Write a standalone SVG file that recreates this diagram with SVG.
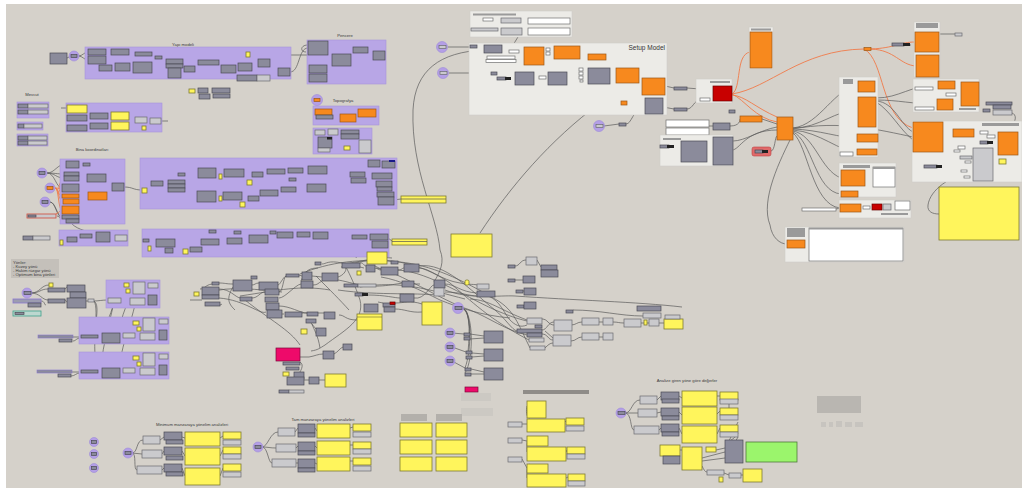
<svg xmlns="http://www.w3.org/2000/svg" width="1022" height="491" viewBox="0 0 1022 491">
<style>
.bg{fill:#d5d1ca}
.g{fill:#b8a6e6;stroke:#a795db;stroke-width:0.6}
.p{fill:#ecebe7;stroke:#cfcdc8;stroke-width:0.6}
.n{fill:#8b8b9b;stroke:#4a4a55;stroke-width:0.7}
.l{fill:#cacacd;stroke:#6a6a70;stroke-width:0.7}
.o{fill:#f7891e;stroke:#9a5718;stroke-width:0.7}
.y{fill:#fff55c;stroke:#7e7a30;stroke-width:0.8}
.w{fill:#ffffff;stroke:#6f6f6f;stroke-width:0.7}
.r{fill:#c80000;stroke:#6a0000;stroke-width:0.7}
.m{fill:#ee0a6a;stroke:#7a0a3a;stroke-width:0.7}
.k{fill:#222;stroke:none}
.b{fill:#9a9a9a;stroke:none}
.f{fill:#c4c0ba;stroke:none}
.c{fill:#b49fe6;stroke:#9c89d8;stroke-width:0.6}
.e{fill:none;stroke:#5a5a5a;stroke-width:0.7}
.eo{fill:none;stroke:#f07a4a;stroke-width:0.9}
.t{font-family:"Liberation Sans",Arial,sans-serif;font-size:4.2px;fill:#3a3a3a}
</style>
<rect width="1022" height="491" fill="#ffffff"/>
<rect class="bg" x="6" y="4" width="1016" height="484"/>

<g id="connectors">
<path class="e" d="M67,58 L71,56 M78,56 C83,56 84,52 88,52 M78,56 C83,56 84,60 88,60 M106,52 L111,52 M106,60 C110,60 110,66 115,66 M129,52 C132,52 132,54 135,54 M130,66 L133,67 M152,54 C154,54 153,57 155,57 M162,57 C164,57 164,62 166,62 M183,62 C184,62 183,69 184,69 M195,69 C197,69 196,62 198,62 M219,62 C220,62 220,69 221,69 M236,69 L238,67 M252,67 C255,67 255,63 258,63 M270,63 C274,63 274,72 278,72 M290,72 C300,72 298,48 308,48 M162,56 C220,55 260,55 308,55 M328,48 C331,48 329,60 332,60 M351,60 C352,60 352,50 353,50 M368,50 C370,50 371,55 373,55 M308,45 C300,45 300,52 306,52"/>
<path class="e" d="M61,108 L67,108 M87,109 C89,109 88,116 90,116 M87,118 L90,116 M108,116 C110,116 109,116 111,116 M108,126 L111,126 M129,116 C132,116 132,120 135,120 M147,120 L150,121 M161,121 L168,121"/>
<path class="e" d="M47,173 C55,173 57,164 66,164 M47,173 C55,173 57,174 64,174 M47,173 C55,173 56,178 64,178 M47,173 C55,173 56,188 62,188 M50,202 C56,202 56,217 62,217 M50,202 C56,202 58,221 66,221 M79,174 C83,174 83,178 87,178 M106,178 C109,178 109,187 112,187 M124,187 C133,187 133,190 142,190 M79,188 C83,188 84,178 87,178 M57,216 C60,216 60,221 66,221 M72,224 C78,230 90,232 96,234"/>
<path class="eo" d="M55,188 C59,188 58,196 62,196 M55,188 C59,188 58,201 63,201 M55,188 C59,188 58,210 62,210 M55,188 C70,188 75,196 88,196 M62,180 C58,185 58,190 62,195 M56,214 C60,212 60,210 62,210"/>
<path class="e" d="M147,190 L151,183 M163,183 L168,182 M185,182 C192,182 191,173 198,173 M185,188 C192,188 190,196 197,196 M185,186 C190,186 192,192 197,194 M216,173 L224,173 M244,173 C248,173 248,174 252,174 M263,174 C265,174 265,172 267,172 M285,172 L288,171 M303,170 L308,170 M327,170 C340,170 338,175 350,175 M216,196 L223,196 M242,196 C245,196 245,198 248,198 M259,198 C260,198 259,193 260,193 M278,193 C280,193 279,190 281,190 M296,190 C301,190 302,188 307,188 M326,188 C338,188 338,180 350,180 M365,176 C368,176 369,176 372,176 M365,180 C370,180 372,183 376,183 M365,174 C368,174 366,164 368,164 M393,200 L401,199 M185,178 C190,176 193,175 178,175"/>
<path class="e" d="M188,249 C192,249 192,247 190,247 M202,249 L209,241 M219,241 C222,241 222,239 227,239 M242,239 C245,239 246,237 249,237 M268,238 C272,238 272,234 277,234 M293,234 L297,234 M310,234 L313,234 M328,234 C340,234 340,236 352,236 M367,236 L370,236 M388,238 L392,241 M227,240 L230,234 M249,235 L270,231 M156,242 L165,248 M173,247 L190,247"/>
<path class="e" d="M31,293 C40,293 41,285 49,285 M31,293 C40,293 40,289 48,289 M31,293 C40,293 42,300 48,300 M65,289 C66,289 66,287 67,287 M65,300 C66,300 66,302 67,302 M41,301 C45,301 44,305 46,305 M86,301 L88,301 M94,301 C98,301 102,300 108,300 M94,301 C100,305 95,320 96,330 C97,336 100,336 102,337 M94,301 C100,310 90,350 98,368 C100,372 101,372 102,372 M121,300 C126,300 126,300 130,300 M114,302 C110,318 105,325 102,333 M114,302 C108,330 100,355 102,370 M128,302 C120,320 118,332 123,336 M136,300 C130,330 115,360 123,371 M73,337 L81,337 M73,341 C76,341 76,338 81,338 M72,372 L80,372 M71,376 C75,376 76,373 80,373 M98,338 L102,338 M120,337 L123,336 M135,336 L140,336 M155,336 L159,335 M98,373 L102,373 M120,372 L123,371 M135,371 L140,371 M155,371 L159,370"/>
<path class="e" d="M200,289 C205,289 205,285 212,284 M219,283 C225,283 226,284 233,284 M252,285 C255,285 255,283 259,283 M278,285 C280,285 283,277 286,276 M299,275 L302,276 M312,276 L322,277 M338,277 C345,275 350,266 341,267 M360,267 L364,268 M374,268 C378,268 378,270 381,270 M398,270 C402,270 402,268 404,268 M419,268 C430,268 440,280 460,283 C470,285 475,284 477,285 M219,289 C230,289 235,297 240,298 M252,298 C258,298 260,292 265,292 M279,292 C283,292 283,278 286,276 M279,298 C285,298 295,285 301,284 M279,306 C290,306 300,313 307,313 M279,314 C282,314 282,314 284,314 M301,313 L307,313 M318,313 L324,313 M313,285 C318,285 318,283 322,281 M233,287 C225,300 230,305 235,310 M190,300 L202,300 M207,305 C215,305 220,306 222,304 M338,280 C350,282 355,285 369,286 M369,286 C390,287 400,282 402,284 M368,295 C385,295 395,298 400,298 M414,298 C425,300 430,285 434,285 M414,284 L420,284 M445,284 C455,284 460,292 477,293 M445,292 C460,292 470,296 477,296 M445,290 C470,300 500,295 515,296 C570,300 640,302 682,307 M378,302 L383,303 M395,303 C405,303 410,300 422,304 M395,309 C405,309 410,313 422,312 M339,315 C345,315 345,320 357,320 M301,281 C305,270 310,268 318,268 M316,276 C330,290 340,300 349,310 M322,264 C326,264 328,260 342,263 M360,263 C363,262 364,266 366,266 M375,266 L381,269 M346,267 C350,275 355,285 360,300 C365,320 345,330 325,345 C320,348 318,350 311,351 M312,324 C314,330 318,335 320,348 M300,357 L309,357 M309,357 C315,356 318,354 323,354 M334,354 C338,352 340,348 343,347 M300,362 C305,365 300,372 298,375 M304,380 L309,380 M319,380 L325,380 M311,323 L316,329 M343,264 C360,262 380,256 392,258 M356,258 C360,248 363,240 367,252"/>
<path class="e" d="M398,270 C430,272 470,300 500,312 C510,316 515,318 527,321 M419,266 C445,262 470,290 495,310 C505,318 512,330 517,331 M376,268 C400,272 440,300 470,310 C490,318 505,330 527,335 M352,264 C380,255 420,262 450,283 C470,300 490,320 529,340 M300,274 C330,262 360,258 400,262 C430,265 460,278 500,302 C515,312 520,328 530,348 M381,277 C400,280 420,290 440,300 C460,308 480,315 510,318 M338,290 C380,296 420,292 445,296 M360,287 C400,280 430,290 465,299 M240,296 C280,290 300,285 330,290 M207,293 C230,285 260,290 282,292 M245,300 C270,320 290,330 300,345 M219,298 C245,300 260,315 266,312"/>
<path class="e" d="M440,250 C445,262 440,272 434,282 M470,299 C490,300 500,310 527,320 M488,296 C500,300 505,315 510,320 C515,325 520,328 527,325 M461,308 C468,308 468,316 470,330 C470,336 465,333 464,334 M461,308 C470,308 470,330 468,352 M461,308 C472,308 472,350 465,368 M461,308 C474,308 474,360 465,373 M470,334 L484,336 M470,339 L484,338 M472,353 L484,354 M472,357 L484,356 M471,369 L484,372 M471,374 L484,374 M452,333 L464,334 M452,347 L466,352 M452,361 L465,368"/>
<path class="e" d="M515,266 C520,266 520,260 526,260 M515,280 L523,280 M523,291 L524,291 M537,260 L541,267 M542,319 C548,319 548,325 554,325 M542,334 C548,334 548,340 553,340 M571,325 C576,325 577,322 582,322 M571,341 C576,341 577,337 582,337 M599,322 L603,322 M599,337 L603,337 M613,322 C618,322 619,323 624,323 M641,323 C645,323 645,323 649,323 M659,323 L664,323 M573,310 C600,310 620,316 643,316 M542,330 C547,330 548,322 554,322 M545,331 C548,333 550,336 553,338 M545,348 C548,345 550,343 553,343"/>
<path class="e" d="M484,50 C440,52 415,70 413,110 C411,170 437,215 440,250 M448,47 L470,47 M477,47 L484,48 M502,49 C506,49 506,52 509,52 M519,52 C521,52 521,52 524,52 M493,21 L501,21 M521,21 L528,21 M522,31 L528,31 M521,32 C517,38 514,44 510,50 M544,55 C548,55 548,50 554,50 M580,52 C584,52 584,57 588,57 M606,57 C612,57 612,76 606,82 C600,84 596,84 588,84 M449,73 L491,73 M497,73 C505,73 508,78 515,78 M534,78 C537,78 537,78 539,78 M546,78 L548,78 M567,78 C574,78 572,70 579,70 M583,75 L588,75 M610,76 L616,76 M639,76 C641,78 641,85 642,86 M480,233 C510,187 550,140 600,103 C620,92 630,93 642,93 M604,126 L619,124 M626,124 C632,124 632,110 645,106 M665,86 L674,88 M687,88 L713,90 M663,107 L674,109 M687,109 C693,109 694,100 700,100 M709,126 L713,126 M730,126 C740,126 740,120 740,119 M732,150 C740,150 745,130 777,130 M762,119 L777,124 M771,151 C775,151 775,136 777,136 M733,141 C745,141 760,130 777,127"/>
<path class="eo" d="M732,94 C742,88 735,55 750,52 M732,94 C770,88 800,50 864,49 M871,49 C895,48 900,42 915,42 M871,49 C895,50 900,65 916,66 M732,94 C745,100 755,118 777,122 M864,49 C885,60 880,118 913,128 M732,95 C745,96 756,108 777,117"/>
<path class="e" d="M793,128 C820,125 835,87 858,86 M793,128 C820,128 835,110 858,110 M793,129 C820,130 840,138 857,138 M793,130 C820,132 840,152 857,152 M793,131 C815,135 820,170 841,178 M793,132 C812,140 815,192 841,194 M793,133 C808,145 812,205 840,208 M793,134 C780,160 760,200 770,225 C772,238 780,244 787,244 M793,129 C840,120 880,130 913,137 M911,45 L892,45 M876,98 C900,98 910,85 938,85 M876,100 C900,100 910,104 937,104 M876,101 C895,102 900,125 913,132 M876,102 C890,110 900,130 913,140 M955,85 L961,88 M939,34 L955,34 M998,140 L993,140 M974,160 C960,165 953,165 946,159 M974,172 C950,175 930,190 928,205 C927,212 933,214 939,214 M1012,113 C1018,115 1016,125 1005,130 M943,133 L953,133 M865,174 L873,174 M861,208 L863,208 M870,208 L872,208 M882,207 L883,207 M836,209 L840,208"/>
<path class="e" d="M132,453 C138,453 136,440 143,440 M132,453 L142,454 M132,453 C137,453 133,470 137,470 M160,440 L164,437 M162,454 L164,451 M162,470 L164,468 M182,437 L185,438 M182,451 L185,456 M182,468 L185,476 M220,438 L223,436 M220,456 L223,450 M220,476 L223,468 M262,447 C268,447 270,432 278,432 M262,447 C268,447 270,448 276,448 M262,447 C268,447 268,463 272,463 M295,432 L298,428 M296,448 L298,446 M296,463 L298,463 M315,428 L317,431 M315,446 L317,448 M315,463 L317,464 M350,428 L353,427 M350,445 L353,445 M350,461 L353,461 M625,413 C632,413 632,400 640,400 M625,413 L638,413 M625,413 C632,413 630,430 634,430 M657,400 L661,396 M657,413 L661,412 M659,430 L661,428 M679,396 L682,398 M679,412 L682,415 M679,428 L682,434 M717,396 L720,396 M717,414 L720,411 M717,434 L720,428 M729,399 L729,408 M702,458 L725,452 M702,461 L725,458 M716,450 L725,448 M738,433 C736,438 730,440 725,445 M738,422 C734,430 730,440 728,442 M738,437 L734,444 M702,466 C704,470 705,472 707,472 M724,473 L729,475 M741,475 L743,475 M680,450 L682,450 M530,418 C526,418 526,410 527,406 M522,424 L527,424 M522,440 L527,441 M522,459 L527,468 M530,436 C526,440 527,446 527,452 M530,464 C526,466 527,470 527,478 M565,422 L566,421 M566,452 L567,450 M566,478 L568,477"/>
</g>

<g id="canvas-top-left">
<rect class="n" x="50" y="53" width="17" height="11"/>
<circle class="c" cx="74" cy="56" r="5"/><rect class="n" x="71" y="54.5" width="6" height="3"/>
</g>
<g id="yapi-modeli">
<rect class="g" x="85" y="47" width="206" height="32"/>
<text class="t" x="183" y="45.5" text-anchor="middle">Yapı modeli</text>
<rect class="n" x="88" y="49" width="18" height="6"/><rect class="n" x="88" y="56" width="18" height="8"/>
<rect class="n" x="111" y="49" width="18" height="6"/><rect class="n" x="99" y="65" width="13" height="6"/>
<rect class="n" x="115" y="63" width="15" height="8"/><rect class="n" x="133" y="62" width="19" height="11"/>
<rect class="n" x="135" y="52" width="17" height="4"/><rect class="n" x="155" y="56" width="7" height="3"/>
<rect class="n" x="166" y="59" width="17" height="5"/><rect class="n" x="166" y="64" width="17" height="4"/><rect class="n" x="168" y="68" width="13" height="10"/>
<rect class="n" x="184" y="66" width="11" height="6"/><rect class="n" x="198" y="60" width="21" height="5"/>
<rect class="n" x="221" y="65" width="15" height="8"/><rect class="n" x="238" y="63" width="14" height="8"/>
<rect class="y" x="246" y="52" width="4" height="5"/><rect class="n" x="258" y="59" width="12" height="8"/>
<rect class="n" x="278" y="68" width="12" height="8"/>
<rect class="n" x="237" y="75" width="20" height="6"/><rect class="l" x="257" y="75" width="13" height="6"/>
</g>
<g id="pencere">
<rect class="g" x="307" y="40" width="79" height="44"/>
<text class="t" x="345" y="36.5" text-anchor="middle">Pencere</text>
<rect class="n" x="308" y="41" width="20" height="14"/><rect class="n" x="332" y="54" width="19" height="12"/>
<rect class="n" x="353" y="47" width="15" height="6"/><rect class="n" x="373" y="51" width="12" height="9"/>
<rect class="n" x="309" y="65" width="18" height="8"/><rect class="n" x="309" y="74" width="18" height="8"/>
</g>
<g id="misc-top">
<rect class="y" x="189" y="89" width="6" height="4"/><rect class="n" x="198" y="88" width="10" height="5"/>
<rect class="n" x="199" y="94" width="11" height="5"/><rect class="n" x="212" y="88" width="18" height="5"/><rect class="n" x="213" y="94" width="17" height="4"/>
</g>
<g id="mevcut">
<text class="t" x="32" y="96" text-anchor="middle">Mevcut</text>
<rect class="g" x="17" y="102" width="32" height="16"/>
<rect class="n" x="18" y="104" width="10" height="4"/><rect class="l" x="28" y="104" width="20" height="4"/>
<rect class="n" x="18" y="110" width="10" height="4"/><rect class="l" x="28" y="110" width="20" height="4"/>
<rect class="g" x="17" y="122" width="26" height="8"/>
<rect class="n" x="18" y="124" width="6" height="4"/><rect class="l" x="24" y="124" width="18" height="4"/>
<rect class="g" x="17" y="134" width="31" height="12"/>
<rect class="n" x="18" y="136" width="10" height="4"/><rect class="l" x="28" y="136" width="19" height="4"/>
<rect class="n" x="18" y="141" width="10" height="4"/><rect class="l" x="28" y="141" width="19" height="4"/>
</g>
<g id="mevcut-proc">
<rect class="g" x="66" y="103" width="96" height="29"/>
<rect class="y" x="67" y="105" width="20" height="8"/><rect class="n" x="67" y="115" width="20" height="6"/>
<rect class="n" x="90" y="113" width="18" height="6"/><rect class="y" x="111" y="112" width="18" height="8"/>
<rect class="l" x="135" y="117" width="12" height="6"/><rect class="l" x="150" y="118" width="11" height="6"/>
<rect class="n" x="67" y="125" width="20" height="6"/><rect class="n" x="90" y="123" width="18" height="6"/>
<rect class="y" x="111" y="122" width="18" height="8"/><rect class="y" x="142" y="126" width="4" height="4"/>
</g>
<g id="topografya">
<circle class="c" cx="317" cy="100" r="5.5"/><rect class="o" x="314" y="98.5" width="6" height="3"/>
<text class="t" x="343" y="101.5" text-anchor="middle">Topografya</text>
<rect class="g" x="313" y="106" width="66" height="19"/>
<rect class="o" x="315" y="109" width="17" height="6"/><rect class="n" x="316" y="115" width="17" height="4"/>
<rect class="o" x="340" y="114" width="16" height="8"/><rect class="o" x="358" y="109" width="18" height="8"/>
</g>
<g id="topo-2">
<rect class="g" x="313" y="128" width="59" height="26"/>
<rect class="l" x="315" y="130" width="10" height="5"/><rect class="l" x="328" y="129" width="10" height="6"/>
<rect class="n" x="341" y="130" width="18" height="4"/><rect class="n" x="341" y="134" width="18" height="5"/>
<rect class="n" x="318" y="137" width="14" height="11"/><rect class="k" x="327" y="137" width="5" height="2.5"/>
<rect class="l" x="318" y="148" width="12" height="4"/><rect class="y" x="344" y="146" width="6" height="4"/>
<rect class="l" x="359" y="140" width="12" height="13"/>
</g>
<g id="bina-koordinatlari">
<text class="t" x="92" y="151" text-anchor="middle">Bina koordinatları</text>
<rect class="g" x="60" y="159" width="65" height="65"/>
<circle class="c" cx="42" cy="173" r="5"/><rect class="n" x="39" y="171.5" width="6" height="3"/>
<circle class="c" cx="50" cy="188" r="5"/><rect class="o" x="47" y="186.5" width="6" height="3"/>
<circle class="c" cx="45" cy="202" r="5"/><rect class="n" x="42" y="200.5" width="6" height="3"/>
<rect class="n" x="66" y="161" width="13" height="7"/><rect class="n" x="83" y="163" width="7" height="3"/>
<rect class="n" x="64" y="172" width="15" height="4"/><rect class="n" x="64" y="176" width="15" height="5"/>
<rect class="n" x="62" y="184" width="17" height="8"/><rect class="n" x="87" y="174" width="19" height="8"/>
<rect class="n" x="112" y="183" width="12" height="8"/>
<rect class="o" x="62" y="194" width="17" height="4"/><rect class="o" x="63" y="199" width="16" height="5"/>
<rect class="o" x="62" y="206" width="17" height="8"/><rect class="n" x="62" y="215" width="17" height="4"/>
<rect class="n" x="66" y="219" width="13" height="4"/><rect class="o" x="88" y="192" width="19" height="8"/>
<rect x="27" y="214" width="29" height="4" fill="#c9c9cc" stroke="#d04a3a" stroke-width="0.8"/><rect class="n" x="28" y="215" width="8" height="2"/>
</g>
<g id="bina-proc">
<rect class="g" x="140" y="158" width="257" height="51"/>
<rect class="y" x="142" y="188" width="5" height="5"/><rect class="n" x="151" y="181" width="12" height="5"/>
<rect class="n" x="168" y="180" width="17" height="4"/><rect class="n" x="168" y="184" width="17" height="4"/><rect class="n" x="168" y="188" width="17" height="4"/>
<rect class="n" x="178" y="173" width="7" height="3"/><rect class="n" x="198" y="168" width="18" height="10"/>
<rect class="y" x="219" y="174" width="3" height="5"/><rect class="n" x="224" y="169" width="20" height="8"/>
<rect class="n" x="252" y="172" width="11" height="5"/><rect class="n" x="267" y="169" width="18" height="5"/>
<rect class="y" x="247" y="180" width="5" height="5"/><rect class="n" x="288" y="168" width="15" height="5"/>
<rect class="n" x="308" y="166" width="19" height="8"/><rect class="n" x="197" y="191" width="19" height="11"/>
<rect class="y" x="219" y="196" width="3" height="5"/><rect class="n" x="223" y="192" width="19" height="8"/>
<rect class="n" x="248" y="196" width="11" height="5"/><rect class="y" x="240" y="202" width="5" height="5"/>
<rect class="n" x="260" y="190" width="18" height="6"/><rect class="n" x="281" y="187" width="15" height="5"/>
<rect class="n" x="289" y="178" width="7" height="3"/><rect class="n" x="307" y="184" width="19" height="8"/>
<rect class="n" x="350" y="172" width="15" height="5"/><rect class="n" x="351" y="178" width="15" height="5"/>
<rect class="n" x="368" y="160" width="12" height="7"/><rect class="n" x="382" y="161" width="13" height="7"/><rect x="389" y="160" width="6" height="2" fill="#1a1a8a"/>
<rect class="n" x="372" y="173" width="20" height="6"/><rect class="n" x="376" y="181" width="16" height="6"/>
<rect class="n" x="377" y="187" width="15" height="4"/><rect class="n" x="377" y="192" width="17" height="5"/>
<rect class="n" x="378" y="197" width="16" height="8"/>
</g>
<g id="wide-panels">
<rect class="y" x="401" y="196" width="45" height="7"/><line x1="401" y1="199" x2="446" y2="199" stroke="#555" stroke-width="0.7"/>
<rect class="y" x="392" y="239" width="35" height="6"/><line x1="392" y1="241.5" x2="427" y2="241.5" stroke="#555" stroke-width="0.7"/>
</g>
<g id="bina-proc-2">
<rect class="g" x="59" y="230" width="69" height="16"/>
<rect class="n" x="67" y="237" width="10" height="5"/><rect class="n" x="80" y="234" width="12" height="4"/>
<rect class="n" x="96" y="232" width="14" height="10"/><rect class="l" x="115" y="235" width="12" height="6"/>
<rect class="y" x="60" y="240" width="3" height="5"/>
<rect class="n" x="23" y="236" width="10" height="4"/><rect class="l" x="33" y="236" width="17" height="4"/>
</g>
<g id="yapi-proc-2">
<rect class="g" x="142" y="229" width="247" height="28"/>
<rect class="n" x="209" y="230" width="7" height="3"/><rect class="n" x="234" y="231" width="7" height="3"/>
<rect class="n" x="270" y="231" width="6" height="3"/><rect class="n" x="201" y="239" width="18" height="6"/>
<rect class="n" x="227" y="238" width="15" height="6"/><rect class="n" x="249" y="235" width="19" height="8"/>
<rect class="n" x="277" y="232" width="16" height="6"/><rect class="n" x="297" y="232" width="13" height="5"/>
<rect class="n" x="313" y="232" width="15" height="7"/><rect class="n" x="352" y="235" width="15" height="4"/>
<rect class="n" x="370" y="234" width="18" height="6"/><rect class="n" x="372" y="241" width="16" height="7"/>
<rect class="n" x="190" y="247" width="12" height="5"/><rect class="y" x="183" y="249" width="5" height="5"/>
<rect class="n" x="143" y="239" width="6" height="3"/><rect class="n" x="156" y="239" width="19" height="8"/>
<rect class="y" x="148" y="246" width="3" height="5"/><rect class="n" x="165" y="248" width="8" height="5"/>
</g>
<g id="yonler">
<rect class="f" x="11" y="259" width="48" height="19"/>
<text class="t" x="13" y="263.5" font-size="3.6">Yönler:</text>
<text class="t" x="13" y="267.5" font-size="3.6">- Kuzey yönü</text>
<text class="t" x="13" y="271.5" font-size="3.6">- Hakim rüzgar yönü</text>
<text class="t" x="13" y="275.5" font-size="3.6">- Optimum bina yönleri</text>
</g>
<g id="yon-input">
<circle class="c" cx="27" cy="293" r="5"/><rect class="n" x="24" y="291.5" width="7" height="3"/>
<rect class="y" x="49" y="283" width="4" height="4"/><rect class="n" x="48" y="288" width="17" height="4"/>
<rect class="n" x="67" y="285" width="18" height="7"/><rect class="n" x="70" y="292" width="16" height="6"/>
<rect class="n" x="67" y="298" width="19" height="10"/><rect class="n" x="48" y="299" width="17" height="4"/>
<rect x="13" y="299" width="28" height="4" fill="#9c9cb0" stroke="#8a78d0" stroke-width="0.8"/>
<rect class="n" x="28" y="303" width="13" height="4"/>
<rect x="13" y="311" width="28" height="5" fill="#bcd7cf" stroke="#3ea08a" stroke-width="0.8"/><rect class="n" x="15" y="312.5" width="9" height="2"/>
<rect class="l" x="88" y="299" width="6" height="3"/>
</g>
<g id="yon-a">
<rect class="g" x="106" y="280" width="54" height="28"/>
<rect class="y" x="124" y="283" width="5" height="4"/><rect class="y" x="126" y="289" width="4" height="4"/>
<rect class="l" x="133" y="282" width="12" height="12"/><rect class="l" x="148" y="283" width="10" height="5"/>
<rect class="n" x="148" y="295" width="9" height="10"/><rect class="l" x="130" y="298" width="15" height="7"/>
<rect class="l" x="108" y="298" width="13" height="5"/>
</g>
<g id="yon-b">
<rect class="g" x="79" y="317" width="90" height="27"/>
<rect class="y" x="133" y="321" width="6" height="4"/><rect class="y" x="137" y="327" width="4" height="4"/>
<rect class="l" x="143" y="318" width="12" height="13"/><rect class="l" x="159" y="319" width="9" height="5"/>
<rect class="n" x="159" y="330" width="8" height="10"/><rect class="l" x="140" y="333" width="15" height="7"/>
<rect class="l" x="123" y="333" width="12" height="5"/><rect class="n" x="102" y="333" width="18" height="10"/>
<rect class="n" x="81" y="335" width="17" height="3"/>
<rect x="38" y="335" width="35" height="3" fill="#8b8b9b" stroke="#8a78d0" stroke-width="0.6"/><rect class="n" x="59" y="339" width="13" height="3"/>
</g>
<g id="yon-c">
<rect class="g" x="79" y="352" width="90" height="27"/>
<rect class="y" x="133" y="356" width="6" height="4"/><rect class="y" x="137" y="362" width="4" height="4"/>
<rect class="l" x="143" y="353" width="12" height="13"/><rect class="l" x="159" y="354" width="9" height="5"/>
<rect class="n" x="159" y="365" width="8" height="10"/><rect class="l" x="140" y="368" width="15" height="7"/>
<rect class="l" x="123" y="368" width="12" height="5"/><rect class="n" x="102" y="368" width="18" height="10"/>
<rect class="n" x="81" y="370" width="17" height="3"/>
<rect x="37" y="370" width="35" height="3" fill="#8b8b9b" stroke="#8a78d0" stroke-width="0.6"/><rect class="n" x="58" y="374" width="13" height="3"/>
</g>
<g id="mid-cluster">
<rect class="y" x="367" y="252" width="20" height="12"/>
<rect class="y" x="451" y="234" width="41" height="23"/>
<rect class="n" x="315" y="262" width="6" height="3"/><rect class="n" x="342" y="263" width="18" height="5"/>
<rect class="y" x="357" y="271" width="4" height="4"/><rect class="n" x="366" y="265" width="9" height="7"/>
<rect class="n" x="381" y="267" width="17" height="8"/><rect class="n" x="391" y="261" width="7" height="3"/>
<rect class="n" x="404" y="264" width="15" height="8"/>
<rect class="n" x="286" y="274" width="13" height="3"/><rect class="n" x="302" y="272" width="10" height="8"/>
<rect class="n" x="322" y="273" width="16" height="8"/><rect class="n" x="301" y="281" width="12" height="7"/>
<rect class="n" x="212" y="282" width="7" height="3"/><rect class="n" x="202" y="287" width="17" height="8"/>
<rect class="n" x="202" y="295" width="17" height="4"/><rect class="n" x="205" y="302" width="15" height="4"/>
<rect class="y" x="194" y="292" width="5" height="4"/><rect class="n" x="233" y="280" width="19" height="11"/>
<rect class="n" x="251" y="276" width="6" height="3"/><rect class="n" x="259" y="282" width="19" height="8"/>
<rect class="n" x="240" y="297" width="12" height="4"/>
<rect class="n" x="265" y="289" width="14" height="6"/><rect class="n" x="265" y="297" width="13" height="5"/>
<rect class="n" x="266" y="303" width="13" height="7"/><rect class="n" x="267" y="310" width="15" height="8"/>
<rect class="n" x="285" y="312" width="17" height="5"/><rect class="n" x="307" y="312" width="11" height="4"/>
<rect class="n" x="324" y="312" width="11" height="7"/>
<rect class="n" x="344" y="284" width="14" height="3"/><rect class="l" x="358" y="284" width="18" height="3"/>
<rect class="n" x="355" y="293" width="8" height="3"/><rect class="k" x="362" y="293" width="6" height="3"/>
<rect class="n" x="402" y="281" width="12" height="6"/><rect class="n" x="434" y="280" width="11" height="8"/>
<rect class="l" x="434" y="288" width="10" height="8"/><rect class="n" x="400" y="294" width="14" height="8"/>
<rect class="n" x="364" y="304" width="14" height="8"/><rect class="n" x="383" y="303" width="12" height="4"/>
<rect class="r" x="390" y="302" width="5" height="2.5"/><rect class="n" x="384" y="307" width="11" height="5"/>
<rect class="y" x="357" y="314" width="25" height="16"/><line x1="357" y1="317" x2="382" y2="317" stroke="#6b6a30" stroke-width="0.6"/>
<rect class="y" x="422" y="302" width="20" height="23"/>
<rect class="y" x="465" y="280" width="4" height="5" rx="1.5"/><rect class="l" x="477" y="284" width="12" height="5"/>
<rect class="n" x="477" y="291" width="18" height="6"/>
<rect class="n" x="306" y="319" width="10" height="4"/><rect class="y" x="301" y="329" width="6" height="5"/>
<rect class="n" x="316" y="328" width="10" height="8"/><rect class="n" x="343" y="344" width="9" height="6"/>
<rect class="n" x="323" y="351" width="11" height="8"/>
<rect class="m" x="276" y="348" width="24" height="13"/>
<rect class="n" x="283" y="362" width="17" height="3"/><rect class="n" x="286" y="367" width="13" height="3"/>
<rect class="y" x="283" y="372" width="6" height="4"/><rect class="n" x="294" y="372" width="10" height="7"/>
<rect class="n" x="287" y="377" width="17" height="8"/><rect class="n" x="309" y="377" width="10" height="7"/>
<rect class="y" x="325" y="374" width="21" height="13"/>
<rect class="n" x="279" y="390" width="10" height="3"/><rect class="l" x="289" y="390" width="15" height="3"/>
</g>
<g id="gen-cluster">
<circle class="c" cx="458" cy="308" r="5.5"/><rect class="n" x="455" y="306.5" width="7" height="3"/>
<circle class="c" cx="450" cy="333" r="5"/><rect class="n" x="447" y="331.5" width="6" height="3"/>
<circle class="c" cx="450" cy="347" r="5"/><rect class="n" x="447" y="345.5" width="6" height="3"/>
<circle class="c" cx="450" cy="361" r="5"/><rect class="n" x="447" y="359.5" width="6" height="3"/>
<rect class="n" x="464" y="333" width="6" height="3"/><rect class="n" x="464" y="337" width="6" height="3"/>
<rect class="n" x="466" y="351" width="6" height="3"/><rect class="n" x="466" y="356" width="6" height="3"/>
<rect class="n" x="465" y="368" width="6" height="3"/><rect class="n" x="465" y="373" width="6" height="3"/>
<rect class="n" x="484" y="331" width="19" height="12"/><rect class="n" x="484" y="349" width="19" height="12"/>
<rect class="n" x="484" y="368" width="19" height="12"/>
<rect class="m" x="465" y="387" width="13" height="5"/>
<rect x="461" y="393" width="30" height="8" fill="#ccc9c3"/><rect x="461" y="408" width="32" height="8" fill="#ccc9c3"/>
</g>
<g id="right-mid-cluster">
<rect class="l" x="526" y="257" width="11" height="8" stroke="#8a78d0"/>
<rect class="n" x="508" y="265" width="7" height="3"/><rect class="n" x="541" y="265" width="16" height="5"/>
<rect class="n" x="541" y="270" width="17" height="7"/>
<rect class="n" x="508" y="279" width="7" height="3"/><rect class="n" x="523" y="276" width="12" height="7" stroke="#8a78d0"/>
<rect class="n" x="516" y="290" width="7" height="3"/><rect class="n" x="524" y="288" width="12" height="7" stroke="#8a78d0"/>
<rect class="n" x="517" y="305" width="7" height="3"/><rect class="n" x="524" y="302" width="12" height="7" stroke="#8a78d0"/>
<rect class="n" x="637" y="306" width="24" height="5" stroke="#8a78d0"/><rect class="l" x="643" y="313" width="18" height="5"/>
<rect class="n" x="566" y="310" width="7" height="3"/><rect class="l" x="527" y="318" width="15" height="6"/>
<rect class="n" x="535" y="325" width="7" height="3"/><rect class="n" x="517" y="329" width="25" height="4"/>
<rect class="n" x="527" y="333" width="15" height="4"/><rect class="l" x="529" y="338" width="15" height="4"/>
<rect class="l" x="530" y="346" width="15" height="4"/>
<rect class="l" x="554" y="320" width="18" height="11"/><rect class="l" x="553" y="335" width="18" height="11"/>
<rect class="l" x="582" y="318" width="17" height="7"/><rect class="l" x="603" y="318" width="10" height="7"/>
<rect class="l" x="582" y="333" width="17" height="7"/><rect class="l" x="603" y="333" width="10" height="7"/>
<rect class="l" x="624" y="319" width="17" height="8"/><rect class="y" x="644" y="320" width="3" height="5"/>
<rect class="l" x="649" y="319" width="10" height="7"/><rect class="y" x="664" y="319" width="19" height="10"/>
<rect class="l" x="665" y="315" width="15" height="4"/>
</g>
<g id="min-manzara">
<text class="t" x="192" y="426" text-anchor="middle" font-size="3.6">Minimum manzaraya yönelim analizleri</text>
<circle class="c" cx="94" cy="442" r="4.5"/><rect class="n" x="91.5" y="440.5" width="5" height="3"/>
<circle class="c" cx="94" cy="454" r="4.5"/><rect class="n" x="91.5" y="452.5" width="5" height="3"/>
<circle class="c" cx="94" cy="468" r="4.5"/><rect class="n" x="91.5" y="466.5" width="5" height="3"/>
<circle class="c" cx="128" cy="453" r="5"/><rect class="n" x="125" y="451.5" width="6" height="3"/>
<rect class="l" x="143" y="436" width="17" height="8"/><rect class="l" x="142" y="450" width="20" height="8"/>
<rect class="l" x="137" y="466" width="25" height="8"/>
<rect class="n" x="164" y="432" width="18" height="8"/><rect class="n" x="166" y="440" width="17" height="4"/>
<rect class="n" x="164" y="447" width="18" height="8"/><rect class="n" x="166" y="456" width="17" height="4"/>
<rect class="n" x="164" y="464" width="18" height="8"/><rect class="n" x="166" y="472" width="17" height="4"/>
<rect class="y" x="185" y="432" width="35" height="14"/><rect class="y" x="185" y="448" width="35" height="17"/>
<rect class="y" x="185" y="468" width="35" height="17"/>
<rect class="y" x="223" y="432" width="18" height="7"/><rect class="l" x="223" y="440" width="18" height="5"/>
<rect class="y" x="223" y="447" width="18" height="7"/><rect class="l" x="223" y="454" width="18" height="5"/>
<rect class="y" x="223" y="464" width="18" height="7"/><rect class="l" x="223" y="472" width="18" height="5"/>
</g>
<g id="tam-manzara">
<text class="t" x="323" y="420.5" text-anchor="middle" font-size="3.6">Tam manzaraya yönelim analizleri</text>
<circle class="c" cx="258" cy="447" r="5"/><rect class="n" x="255" y="445.5" width="6" height="3"/>
<rect class="l" x="278" y="428" width="17" height="8"/><rect class="l" x="276" y="444" width="20" height="8"/>
<rect class="l" x="272" y="459" width="24" height="8"/>
<rect class="n" x="298" y="424" width="17" height="9"/><rect class="n" x="298" y="433" width="17" height="4"/>
<rect class="n" x="298" y="442" width="17" height="9"/><rect class="n" x="298" y="451" width="17" height="4"/>
<rect class="n" x="298" y="459" width="17" height="9"/><rect class="n" x="298" y="468" width="17" height="4"/>
<rect class="y" x="317" y="424" width="33" height="14"/><rect class="y" x="317" y="441" width="33" height="14"/>
<rect class="y" x="317" y="457" width="33" height="14"/>
<rect class="y" x="353" y="424" width="18" height="7"/><rect class="l" x="353" y="432" width="18" height="5"/>
<rect class="y" x="353" y="442" width="18" height="7"/><rect class="l" x="353" y="449" width="18" height="5"/>
<rect class="y" x="353" y="458" width="18" height="7"/><rect class="l" x="353" y="466" width="18" height="5"/>
</g>
<g id="yellow-grid">
<rect x="401" y="414" width="26" height="7" fill="#b3b0ab"/><rect x="436" y="414" width="26" height="7" fill="#b3b0ab"/>
<rect class="y" x="400" y="423" width="32" height="14"/><rect class="y" x="436" y="423" width="31" height="14"/>
<rect class="y" x="400" y="440" width="32" height="14"/><rect class="y" x="436" y="440" width="31" height="14"/>
<rect class="y" x="400" y="457" width="32" height="14"/><rect class="y" x="436" y="457" width="31" height="14"/>
</g>
<g id="yellow-tree">
<rect x="523" y="390" width="66" height="4" fill="#8f8c88"/>
<rect class="y" x="527" y="401" width="19" height="17"/>
<rect class="l" x="508" y="422" width="14" height="5"/><rect class="y" x="527" y="419" width="38" height="13"/>
<rect class="y" x="566" y="418" width="18" height="7"/><rect class="l" x="566" y="426" width="18" height="5"/>
<rect class="l" x="508" y="438" width="14" height="5"/><rect class="y" x="527" y="436" width="21" height="10"/>
<rect class="y" x="527" y="447" width="39" height="14"/>
<rect class="y" x="567" y="447" width="18" height="7"/><rect class="l" x="567" y="454" width="18" height="5"/>
<rect class="l" x="508" y="457" width="14" height="5"/><rect class="y" x="527" y="464" width="21" height="9"/>
<rect class="y" x="527" y="474" width="39" height="13"/>
<rect class="y" x="568" y="474" width="17" height="7"/><rect class="l" x="568" y="481" width="17" height="5"/>
</g>
<g id="analize-giren">
<text class="t" x="687" y="382" text-anchor="middle" font-size="3.6">Analize giren yöne göre değerler</text>
<circle class="c" cx="621" cy="413" r="5"/><rect class="n" x="618" y="411.5" width="7" height="3"/>
<rect class="l" x="640" y="396" width="17" height="8"/><rect class="l" x="638" y="409" width="19" height="8"/>
<rect class="l" x="634" y="426" width="25" height="8"/>
<rect class="n" x="661" y="392" width="18" height="8"/><rect class="n" x="662" y="399" width="17" height="4"/>
<rect class="n" x="661" y="408" width="18" height="8"/><rect class="n" x="662" y="416" width="17" height="4"/>
<rect class="n" x="661" y="424" width="18" height="8"/><rect class="n" x="662" y="432" width="17" height="4"/>
<rect class="y" x="682" y="391" width="35" height="15"/><rect class="y" x="682" y="407" width="35" height="17"/>
<rect class="y" x="682" y="426" width="35" height="17"/>
<rect class="y" x="720" y="392" width="18" height="8"/><rect class="l" x="720" y="399" width="18" height="5"/>
<rect class="y" x="720" y="408" width="18" height="7"/><rect class="l" x="720" y="415" width="18" height="5"/>
<rect class="y" x="720" y="425" width="18" height="7"/><rect class="l" x="720" y="432" width="18" height="5"/>
<rect class="y" x="660" y="445" width="20" height="11"/><rect class="n" x="663" y="456" width="17" height="8"/>
<rect class="y" x="682" y="447" width="20" height="23"/><rect class="y" x="706" y="447" width="10" height="5"/>
<rect class="n" x="725" y="440" width="18" height="23"/>
<rect x="746" y="442" width="51" height="20" fill="#9bf56c" stroke="#4e7a3a" stroke-width="0.8"/>
<rect class="l" x="707" y="470" width="17" height="5"/><rect class="l" x="729" y="473" width="12" height="5"/>
<rect class="y" x="719" y="477" width="4" height="5"/><rect class="y" x="743" y="469" width="19" height="13"/>
</g>
<g id="faint-right">
<rect x="817" y="396" width="44" height="17" fill="#b9b6b1"/>
<rect x="821" y="422" width="5" height="5" fill="#c7c4bf"/><rect x="829" y="422" width="4" height="5" fill="#c7c4bf"/>
<rect x="836" y="421" width="6" height="6" fill="#c7c4bf"/><rect x="845" y="422" width="7" height="5" fill="#c7c4bf"/><rect x="855" y="422" width="8" height="5" fill="#c7c4bf"/>
</g>
<g id="top-panel">
<rect class="p" x="470" y="11" width="102" height="26"/>
<rect class="b" x="473" y="13.5" width="43" height="2"/>
<rect class="w" x="483" y="18" width="10" height="3"/><rect class="l" x="501" y="18" width="20" height="5"/>
<rect class="w" x="528" y="18" width="42" height="6"/>
<rect class="l" x="471" y="28" width="27" height="3"/><rect class="l" x="501" y="28" width="21" height="7"/>
<rect class="w" x="528" y="28" width="42" height="7"/>
</g>
<g id="setup-model">
<rect class="p" x="469" y="43" width="198" height="72"/>
<text x="665" y="50" text-anchor="end" font-family="Liberation Sans,Arial,sans-serif" font-size="6.5" fill="#333">Setup Model</text>
<circle class="c" cx="442" cy="47" r="5.5"/><rect class="l" x="439" y="45.5" width="7" height="3"/>
<rect class="n" x="470" y="45" width="7" height="3"/><rect class="n" x="484" y="45" width="18" height="8"/>
<rect class="w" x="509" y="50" width="10" height="3"/><rect class="w" x="487" y="56" width="28" height="3"/><rect class="w" x="486" y="59.5" width="30" height="3"/>
<rect class="o" x="524" y="47" width="20" height="18"/><rect class="w" x="546" y="48" width="4" height="3"/><rect class="w" x="546" y="52" width="4" height="3"/>
<rect class="o" x="554" y="46" width="26" height="13"/><rect class="o" x="588" y="54" width="18" height="6"/>
<circle class="c" cx="443" cy="73" r="5.5"/><rect class="l" x="440" y="71.5" width="7" height="3"/>
<rect class="n" x="491" y="72" width="6" height="3"/><rect class="n" x="497" y="77" width="9" height="3"/><rect class="k" x="505" y="77" width="6" height="3"/>
<rect class="n" x="515" y="72" width="19" height="13"/><rect class="w" x="539" y="76" width="7" height="3"/>
<rect class="n" x="548" y="72" width="19" height="13"/>
<rect class="w" x="579" y="68" width="4" height="3"/><rect class="w" x="579" y="72" width="4" height="3"/><rect class="w" x="579" y="76" width="4" height="3"/><rect class="w" x="580" y="80" width="3" height="2"/>
<rect class="n" x="588" y="68" width="22" height="16"/><rect class="o" x="616" y="68" width="23" height="15"/>
<rect class="o" x="642" y="78" width="23" height="17"/><rect class="n" x="645" y="98" width="18" height="16"/>
<rect class="o" x="621" y="101" width="6" height="4"/>
<circle class="c" cx="599" cy="126" r="5.5"/><rect class="l" x="596" y="124.5" width="7" height="3"/>
<rect class="n" x="619" y="123" width="7" height="3"/>
<rect class="n" x="674" y="87" width="13" height="3"/><rect class="n" x="674" y="108" width="13" height="3"/>
</g>
<g id="red-panel">
<rect class="p" x="696" y="79" width="36" height="24"/>
<rect class="b" x="710" y="81" width="20" height="2"/>
<rect class="r" x="713" y="86" width="19" height="15"/><rect class="w" x="700" y="98" width="10" height="3"/>
</g>
<g id="inputs-panel">
<rect class="w" x="666" y="120" width="43" height="7"/><rect class="w" x="666" y="128" width="43" height="7"/>
<rect class="n" x="713" y="123" width="17" height="7"/>
<rect class="p" x="660" y="135" width="73" height="31"/>
<rect class="b" x="663" y="138" width="18" height="2"/>
<rect class="n" x="660" y="145" width="9" height="3"/><rect class="k" x="667" y="145" width="7" height="3"/>
<rect class="n" x="681" y="141" width="26" height="21"/><rect class="n" x="713" y="137" width="20" height="28"/>
</g>
<g id="right-area">
<rect class="p" x="749" y="27" width="24" height="42"/><rect class="b" x="751" y="28.5" width="20" height="2"/>
<rect class="o" x="750" y="32" width="22" height="36"/>
<rect class="n" x="729" y="110" width="6" height="3"/><rect class="o" x="740" y="116" width="22" height="6"/>
<rect x="752" y="147" width="19" height="9" rx="2" fill="#e06a6a" stroke="#c04040" stroke-width="0.6"/><rect class="n" x="755" y="150" width="8" height="3"/><rect class="k" x="762" y="150" width="6" height="3"/>
<rect class="o" x="777" y="117" width="16" height="23"/>
<rect class="o" x="864" y="47.5" width="7" height="3"/>
<rect class="n" x="892" y="43" width="12" height="3"/><rect class="k" x="903" y="43" width="7" height="3"/>
<rect class="p" x="914" y="22" width="26" height="55"/><rect class="b" x="916" y="23" width="22" height="5"/>
<rect class="o" x="915" y="32" width="24" height="20"/><rect class="o" x="916" y="55" width="23" height="22"/>
<rect class="l" x="955" y="33" width="7" height="3"/>
</g>
<g id="right-panel-a">
<rect class="p" x="839" y="77" width="39" height="80"/><rect class="b" x="843" y="79" width="10" height="5"/>
<rect class="o" x="858" y="81" width="17" height="11"/><rect class="o" x="858" y="97" width="18" height="30"/>
<rect class="o" x="857" y="134" width="21" height="8"/><rect class="w" x="840" y="152" width="13" height="4"/>
<rect class="o" x="857" y="149" width="20" height="6"/>
</g>
<g id="right-panel-b">
<rect class="p" x="913" y="79" width="66" height="33"/>
<rect class="o" x="938" y="81" width="17" height="8"/><rect class="o" x="961" y="82" width="18" height="24"/>
<rect class="w" x="915" y="87" width="18" height="3"/><rect class="w" x="946" y="93" width="10" height="3"/>
<rect class="o" x="937" y="99" width="16" height="11"/><rect class="w" x="915" y="107" width="19" height="3"/>
<rect class="b" x="959" y="108" width="17" height="2"/>
<rect class="n" x="986" y="102" width="26" height="3"/><rect class="n" x="993" y="105" width="18" height="4"/>
<rect class="l" x="993" y="110" width="19" height="5"/><rect class="n" x="983" y="109" width="7" height="3"/>
</g>
<g id="right-panel-c">
<rect class="p" x="912" y="121" width="110" height="61"/>
<rect class="o" x="913" y="122" width="30" height="30"/><rect class="b" x="982" y="123" width="37" height="3"/>
<rect class="o" x="953" y="129" width="21" height="8"/><rect class="o" x="998" y="132" width="20" height="23"/>
<rect class="l" x="973" y="148" width="20" height="33"/><rect class="y" x="999" y="159" width="7" height="5"/>
<rect class="n" x="924" y="165" width="13" height="3"/><rect class="k" x="936" y="165" width="6" height="3"/>
<rect class="w" x="980" y="131" width="8" height="3"/><rect class="w" x="987" y="135" width="8" height="3"/>
<rect class="n" x="980" y="141" width="8" height="3"/><rect class="k" x="987" y="141" width="6" height="3"/>
<rect class="w" x="958" y="146" width="7" height="3"/><rect class="w" x="954" y="150" width="6" height="2"/>
<rect class="l" x="960" y="156" width="12" height="3"/><rect class="w" x="965" y="161" width="6" height="2"/>
<rect class="w" x="961" y="170" width="6" height="2"/><rect class="w" x="964" y="176" width="6" height="2"/>
</g>
<g id="yellow-big">
<rect class="y" x="939" y="187" width="80" height="53"/>
</g>
<g id="right-panel-d">
<rect class="p" x="839" y="163" width="57" height="34"/><rect class="b" x="843" y="165" width="27" height="3"/>
<rect class="o" x="841" y="170" width="24" height="16"/>
<rect class="w" x="873" y="167" width="22" height="20"/><rect class="b" x="873" y="167" width="22" height="2"/>
<rect class="o" x="841" y="191" width="17" height="6"/>
</g>
<g id="right-panel-e">
<rect class="w" x="802" y="208" width="34" height="3"/>
<rect class="p" x="839" y="200" width="72" height="18"/>
<rect class="o" x="840" y="204" width="21" height="8"/><rect class="w" x="863" y="206" width="7" height="3"/>
<rect class="r" x="872" y="204" width="10" height="6"/><rect class="l" x="883" y="204" width="8" height="6"/>
<rect class="w" x="895" y="201" width="15" height="9"/><rect class="b" x="881" y="213" width="27" height="2"/>
</g>
<g id="right-panel-f">
<rect class="p" x="785" y="227" width="119" height="35"/>
<rect class="b" x="787" y="228" width="18" height="9"/><rect class="o" x="787" y="240" width="18" height="8"/>
<rect class="w" x="809" y="228" width="94" height="33"/><rect class="b" x="809" y="228" width="94" height="1.5"/>
</g>
</svg>
